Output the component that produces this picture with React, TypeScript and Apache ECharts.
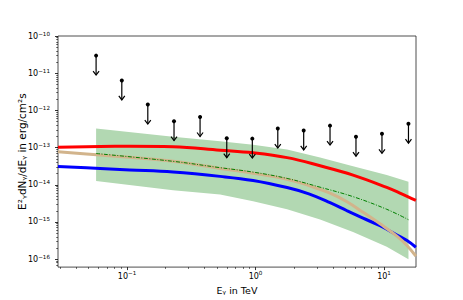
import React, { useEffect, useRef } from "react";
import * as echarts from "echarts";

// Upper limits (energy in TeV, E^2 dN/dE in erg/cm^2 s)
const ulEnergy = [0.0574, 0.091, 0.145, 0.232, 0.37, 0.597, 0.944, 1.49, 2.37, 3.8, 6.05, 9.64, 15.5];
const ulFlux = [2.97e-11, 6.38e-12, 1.43e-12, 5.13e-13, 6.61e-13, 1.78e-13, 1.74e-13, 3.24e-13, 2.88e-13, 3.89e-13, 1.95e-13, 2.34e-13, 4.37e-13];

// Model curves
const redEnergy = [0.029, 0.0617, 0.105, 0.228, 0.53, 0.957, 1.76, 3.18, 5.74, 10.5, 13.3, 17.7];
const redFlux = [1.02e-13, 1.07e-13, 1.08e-13, 1.05e-13, 8.5e-14, 7.24e-14, 5.37e-14, 3.24e-14, 1.82e-14, 8.5e-15, 6.0e-15, 3.8e-15];

const blueEnergy = [0.029, 0.0617, 0.105, 0.228, 0.53, 0.957, 1.76, 2.6, 3.8, 5.15, 6.87, 9.31, 12.6, 15.1, 17.7];
const blueFlux = [3.09e-14, 2.75e-14, 2.51e-14, 2.19e-14, 1.68e-14, 1.3e-14, 8.4e-15, 5.7e-15, 3.3e-15, 2.0e-15, 1.26e-15, 7.9e-16, 4.47e-16, 3.16e-16, 2.09e-16];

const tanEnergy = [0.029, 0.0617, 0.105, 0.228, 0.53, 0.957, 1.76, 2.6, 3.8, 5.15, 6.87, 9.31, 12.6, 15.1, 17.7];
const tanFlux = [7.76e-14, 6.31e-14, 5.5e-14, 4.27e-14, 2.75e-14, 2.04e-14, 1.41e-14, 9.5e-15, 5.96e-15, 3.49e-15, 1.82e-15, 8.9e-16, 4.17e-16, 2.34e-16, 1.2e-16];

// Fit and its uncertainty band
const fitEnergy = [0.0574, 0.228, 0.53, 0.957, 1.76, 3.18, 5.74, 10.5, 15.5];
const fitFlux = [6.92e-14, 4.27e-14, 2.88e-14, 2.19e-14, 1.48e-14, 8.6e-15, 4.79e-15, 2.19e-15, 1.15e-15];
const bandUpper = [3.26e-13, 1.95e-13, 1.48e-13, 1.2e-13, 8.9e-14, 5.37e-14, 3.16e-14, 1.82e-14, 1.2e-14];
const bandLower = [1.26e-14, 7.08e-15, 5.5e-15, 3.63e-15, 2.19e-15, 1.17e-15, 5.37e-16, 2.14e-16, 1.0e-16];

// Axis ranges and ticks (exponents)
const xRange = [0.029, 17.74];
const yRange = [6.11e-17, 1e-10];
const xMajorExp = [-1, 0, 1];
const yMajorExp = [-16, -15, -14, -13, -12, -11, -10];
const ulFactor = 0.3;

const L = Math.log10;
const expText = (v: number) => String(Math.round(v)).replace("-", "−");

function minorTicks(lo: number, hi: number) {
  const out: number[] = [];
  for (let n = Math.floor(L(lo)) - 1; n <= Math.ceil(L(hi)); n++) {
    for (let k = 2; k <= 9; k++) {
      const v = k * Math.pow(10, n);
      if (v > lo && v < hi) out.push(L(v));
    }
  }
  return out;
}

const pairs = (xs: number[], ys: number[]) => xs.map((x, i) => [L(x), L(ys[i])]);

export default function App() {
  const ref = useRef<HTMLDivElement>(null);
  useEffect(() => {
    if (!ref.current) return;
    const chart = echarts.init(ref.current, null, { renderer: "svg" });
    const font = "DejaVu Sans";
    const xmin = L(xRange[0]);
    const xmax = L(xRange[1]);
    const ymin = L(yRange[0]);
    const ymax = L(yRange[1]);
    const axisCol = "#000";

    const richFor = (lh: number) => ({
      b: { fontFamily: font, fontSize: 8, color: "#000", lineHeight: lh },
      e: { fontFamily: font, fontSize: 5.6, color: "#000", lineHeight: 5, verticalAlign: "top" },
    });
    const powLabel = (v: number) => `{b|10}{e|${expText(v)}}`;

    const bandPoly = [
      ...fitEnergy.map((e, i) => [L(e), L(bandUpper[i])]),
      ...fitEnergy.map((e, i) => [L(e), L(bandLower[i])]).reverse(),
    ];

    const curve = (xs: number[], ys: number[], color: string, width: number, z: number, type: any = "solid") => ({
      type: "line", data: pairs(xs, ys), symbol: "none", smooth: 0.4,
      lineStyle: { color, width, type }, z,
    });

    chart.setOption({
      animation: false,
      backgroundColor: "#fff",
      grid: { left: 58, right: 47, top: 36, bottom: 32, show: true, borderColor: "#222", borderWidth: 0.8, backgroundColor: "transparent" },
      xAxis: [
        {
          type: "value", min: xmin, max: xmax,
          axisLine: { show: false, onZero: false },
          splitLine: { show: false },
          axisTick: { show: true, customValues: xMajorExp, length: 3, lineStyle: { color: axisCol, width: 0.8 } },
          axisLabel: { customValues: xMajorExp, formatter: powLabel, rich: richFor(12), margin: 3 },
          name: "Eᵧ in TeV", nameLocation: "middle", nameGap: 17,
          nameTextStyle: { fontFamily: font, fontSize: 9.5, color: "#000" },
        },
        {
          type: "value", min: xmin, max: xmax, position: "bottom",
          axisLine: { show: false, onZero: false }, splitLine: { show: false }, axisLabel: { show: false },
          axisTick: { show: true, customValues: minorTicks(xRange[0], xRange[1]), length: 1.8, lineStyle: { color: axisCol, width: 0.6 } },
        },
      ],
      yAxis: [
        {
          type: "value", min: ymin, max: ymax,
          axisLine: { show: false, onZero: false },
          splitLine: { show: false },
          axisTick: { show: true, customValues: yMajorExp, length: 3, lineStyle: { color: axisCol, width: 0.8 } },
          axisLabel: { customValues: yMajorExp, formatter: powLabel, rich: richFor(11), margin: 8 },
          name: "E²ᵧdNᵧ/dEᵧ in erg/cm²s", nameLocation: "middle", nameRotate: 90, nameGap: 31,
          nameMoveOverlap: false,
          nameTextStyle: { fontFamily: font, fontSize: 10.5, color: "#000" },
        },
        {
          type: "value", min: ymin, max: ymax, position: "left",
          axisLine: { show: false, onZero: false }, splitLine: { show: false }, axisLabel: { show: false },
          axisTick: { show: true, customValues: minorTicks(yRange[0], yRange[1]), length: 1.8, lineStyle: { color: axisCol, width: 0.6 } },
        },
      ],
      series: [
        {
          type: "custom", z: 1, silent: true,
          data: [[0, 0]],
          renderItem: (params: any, api: any) => {
            const pts = bandPoly.map((p) => api.coord(p));
            return { type: "polygon", shape: { points: pts }, style: { fill: "#b2d8b2", stroke: "none" } };
          },
        },
        curve(redEnergy, redFlux, "#ff0000", 3, 3),
        curve(blueEnergy, blueFlux, "#0000ff", 3, 3),
        curve(tanEnergy, tanFlux, "#d2b48c", 3, 4),
        curve(fitEnergy, fitFlux, "#008000", 1, 5, [4, 1.5, 1, 1.5]),
        {
          type: "custom", z: 6,
          data: pairs(ulEnergy, ulFlux),
          renderItem: (params: any, api: any) => {
            const top = api.coord([api.value(0), api.value(1)]);
            const bot = api.coord([api.value(0), api.value(1) + L(ulFactor)]);
            const st = { stroke: "#000", lineWidth: 1.2, fill: "none" };
            return {
              type: "group",
              children: [
                { type: "line", shape: { x1: top[0], y1: top[1], x2: bot[0], y2: bot[1] }, style: st },
                { type: "polyline", shape: { points: [[bot[0] - 3, bot[1] - 4], [bot[0], bot[1]], [bot[0] + 3, bot[1] - 4]] }, style: st },
                { type: "circle", shape: { cx: top[0], cy: top[1], r: 2 }, style: { fill: "#000" } },
              ],
            };
          },
        },
      ],
    });
    return () => chart.dispose();
  }, []);
  return <div ref={ref} style={{ position: "fixed", left: 0, top: 0, width: 463, height: 300 }} />;
}
